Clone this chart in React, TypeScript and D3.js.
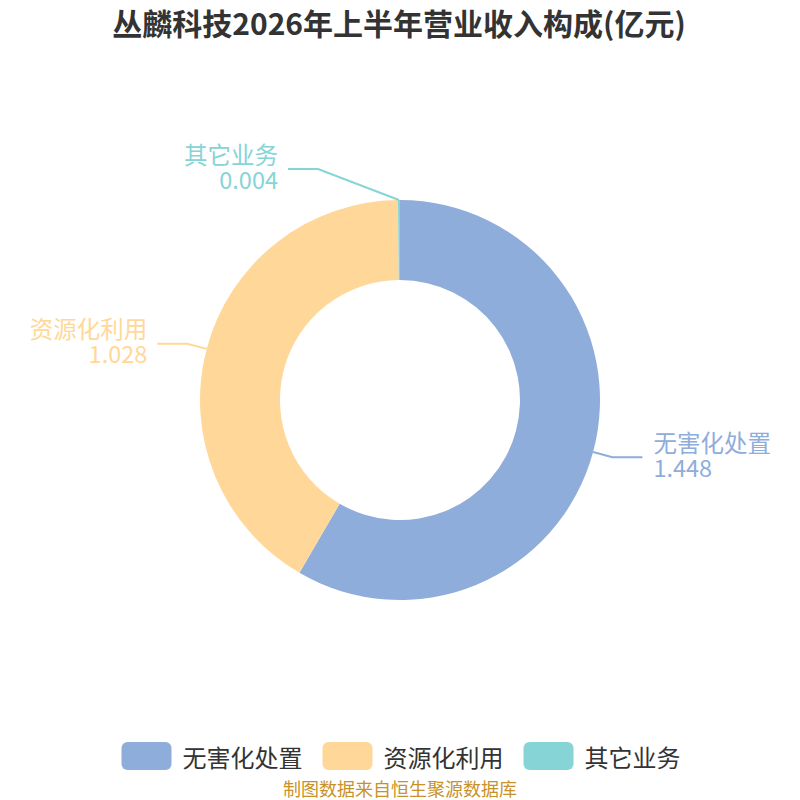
import React from "react";
import * as d3 from "d3";

const TITLE = "丛麟科技2026年上半年营业收入构成(亿元)";
const SOURCE = "制图数据来自恒生聚源数据库";
const categories = ["无害化处置", "资源化利用", "其它业务"];
const values = [1.448, 1.028, 0.004];
const valueLabels = ["1.448", "1.028", "0.004"];
const colors = ["#8FADDB", "#FFD899", "#86D4D6"];

const W = 800;
const H = 800;
const CX = 400;
const CY = 400;
const R_OUT = 200;
const R_IN = 120;
const FONT = "'Noto Sans CJK SC', 'Noto Sans', sans-serif";

// label layout tweaks (ECharts-like overlap avoidance for tiny slice near top)
const labelShift: Record<number, [number, number]> = { 2: [-82, -11] };

export default function App() {
  const pie = d3
    .pie<number>()
    .sort(null)
    .value((d) => d)
    .startAngle(0)
    .endAngle(2 * Math.PI);
  const arcs = pie(values);
  const arcGen = d3.arc<d3.PieArcDatum<number>>().innerRadius(R_IN).outerRadius(R_OUT);

  const labelFs = 23.5;
  const legendFs = 24;
  const rectW = 50;
  const rectH = 28;
  const itemGap = 20;
  const textGap = 11;
  const widths = categories.map((c) => rectW + textGap + c.length * legendFs);
  const totalW = d3.sum(widths) + itemGap * (categories.length - 1);
  let lx = W / 2 - totalW / 2 + 1;
  const legendX = widths.map((w) => {
    const x = lx;
    lx += w + itemGap;
    return x;
  });
  const legendY = 742;

  return (
    <div style={{ position: "absolute", left: 0, top: 0, width: W, height: H }}>
      <svg width={W} height={H} style={{ display: "block", background: "#fff" }}>
        <text
          x={W / 2 - 1}
          y={22}
          textAnchor="middle"
          dominantBaseline="central"
          fontFamily={FONT}
          fontWeight="bold"
          fontSize={30}
          fill="#333333"
        >
          {TITLE}
        </text>
        <g transform={`translate(${CX},${CY})`}>
          {arcs.map((a, i) => (
            <path key={i} d={arcGen(a) || ""} fill={colors[i]} />
          ))}
          {arcs.map((a, i) => {
            const mid = (a.startAngle + a.endAngle) / 2;
            const sx = Math.sin(mid) * R_OUT;
            const sy = -Math.cos(mid) * R_OUT;
            let bx = Math.sin(mid) * (R_OUT + 20);
            let by = -Math.cos(mid) * (R_OUT + 20);
            const shift = labelShift[i];
            if (shift) {
              bx = shift[0];
              by = -R_OUT + shift[1] - 20;
            }
            const right = Math.sin(mid) > 0.01;
            const ex = bx + (right ? 30 : -30);
            const tx = ex + (right ? 11 : -10);
            const anchor = right ? "start" : "end";
            return (
              <g key={"l" + i}>
                <polyline
                  points={`${sx},${sy} ${bx},${by} ${ex},${by}`}
                  fill="none"
                  stroke={colors[i]}
                  strokeWidth={2}
                />
                <text
                  textAnchor={anchor}
                  fontFamily={FONT}
                  fontSize={labelFs}
                  fill={colors[i]}
                >
                  <tspan x={tx} y={by - 5.5}>
                    {categories[i]}
                  </tspan>
                  <tspan x={tx} y={by + 19.5}>
                    {valueLabels[i]}
                  </tspan>
                </text>
              </g>
            );
          })}
        </g>
        {categories.map((c, i) => (
          <g key={"lg" + i}>
            <rect
              x={legendX[i]}
              y={legendY}
              width={rectW}
              height={rectH}
              rx={6}
              ry={6}
              fill={colors[i]}
            />
            <text
              x={legendX[i] + rectW + textGap}
              y={legendY + rectH / 2}
              dominantBaseline="central"
              fontFamily={FONT}
              fontSize={legendFs}
              fill="#333333"
            >
              {c}
            </text>
          </g>
        ))}
        <text
          x={W / 2}
          y={788}
          textAnchor="middle"
          dominantBaseline="central"
          fontFamily={FONT}
          fontSize={18}
          fill="#C8922A"
        >
          {SOURCE}
        </text>
      </svg>
    </div>
  );
}
